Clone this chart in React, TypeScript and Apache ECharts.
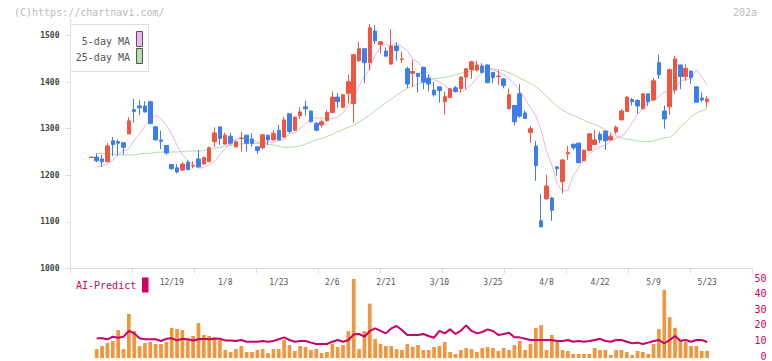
import React, { useEffect, useRef } from "react";
import * as echarts from "echarts";

// ---- data (one entry per trading day) ----
const opens = [
  1238, 1239, 1235, 1229, 1274, 1272, 1270, 1289, 1341, 1349, 1349, 1358, 1304, 1276, 1264, 1223, 1216, 1211, 1228, 1220,
  1235, 1224, 1229, 1272, 1304, 1267, 1284, 1261, 1279, 1286, 1278, 1261, 1259, 1286, 1276, 1297, 1282, 1332, 1297, 1328,
  1347, 1338, 1312, 1308, 1317, 1335, 1368, 1346, 1376, 1354, 1446, 1472, 1442, 1510, 1481, 1467, 1439, 1478, 1449, 1429,
  1419, 1419, 1432, 1409, 1383, 1390, 1358, 1367, 1388, 1386, 1411, 1427, 1426, 1435, 1437, 1421, 1412, 1407, 1343, 1350,
  1375, 1334, 1292, 1263, 1102, 1149, 1151, 1218, 1186, 1246, 1267, 1269, 1231, 1253, 1266, 1288, 1295, 1276, 1293, 1319,
  1337, 1363, 1361, 1343, 1375, 1362, 1442, 1338, 1347, 1383, 1437, 1412, 1424, 1390, 1366, 1358,
];
const closes = [
  1239, 1231, 1229, 1263, 1266, 1269, 1260, 1317, 1337, 1345, 1336, 1311, 1276, 1273, 1248, 1214, 1207, 1224, 1212, 1221,
  1218, 1238, 1259, 1291, 1279, 1286, 1269, 1272, 1280, 1269, 1269, 1253, 1287, 1276, 1290, 1276, 1319, 1294, 1325, 1336,
  1343, 1315, 1297, 1315, 1335, 1368, 1358, 1373, 1401, 1459, 1472, 1442, 1517, 1489, 1487, 1456, 1478, 1468, 1450, 1396,
  1423, 1412, 1400, 1396, 1373, 1382, 1369, 1386, 1380, 1411, 1429, 1444, 1437, 1421, 1399, 1410, 1413, 1393, 1373, 1315,
  1327, 1322, 1300, 1221, 1089, 1177, 1125, 1214, 1233, 1249, 1259, 1227, 1254, 1289, 1276, 1276, 1274, 1284, 1303, 1338,
  1368, 1358, 1349, 1375, 1358, 1403, 1416, 1321, 1427, 1450, 1412, 1430, 1410, 1357, 1362, 1364,
];
const lows = [
  1237, 1228, 1218, 1229, 1241, 1242, 1244, 1289, 1313, 1329, 1335, 1310, 1274, 1256, 1244, 1212, 1204, 1211, 1212, 1215,
  1217, 1224, 1229, 1261, 1265, 1266, 1265, 1259, 1251, 1251, 1261, 1246, 1256, 1265, 1275, 1275, 1280, 1290, 1295, 1321,
  1327, 1313, 1294, 1302, 1316, 1333, 1344, 1345, 1355, 1313, 1444, 1398, 1426, 1482, 1462, 1455, 1437, 1446, 1441, 1387,
  1390, 1378, 1385, 1380, 1369, 1356, 1330, 1366, 1378, 1378, 1385, 1407, 1423, 1419, 1398, 1398, 1394, 1387, 1342, 1307,
  1324, 1321, 1270, 1188, 1089, 1148, 1102, 1199, 1161, 1233, 1254, 1226, 1230, 1252, 1265, 1269, 1254, 1275, 1289, 1318,
  1336, 1350, 1332, 1341, 1349, 1360, 1407, 1300, 1330, 1374, 1385, 1403, 1396, 1356, 1357, 1346,
];
const highs = [
  1240, 1247, 1244, 1269, 1282, 1277, 1271, 1325, 1364, 1362, 1359, 1360, 1306, 1296, 1265, 1223, 1224, 1228, 1232, 1230,
  1254, 1240, 1262, 1303, 1304, 1291, 1291, 1275, 1293, 1287, 1290, 1262, 1288, 1287, 1297, 1308, 1326, 1333, 1326, 1346,
  1360, 1339, 1314, 1320, 1340, 1380, 1377, 1375, 1416, 1461, 1487, 1472, 1525, 1523, 1487, 1475, 1514, 1485, 1466, 1433,
  1448, 1420, 1433, 1417, 1401, 1390, 1380, 1387, 1392, 1412, 1429, 1446, 1446, 1441, 1438, 1422, 1426, 1409, 1386, 1351,
  1396, 1339, 1306, 1274, 1160, 1201, 1154, 1220, 1234, 1263, 1267, 1269, 1255, 1290, 1297, 1294, 1296, 1290, 1307, 1342,
  1370, 1366, 1363, 1376, 1375, 1409, 1459, 1350, 1429, 1457, 1438, 1439, 1425, 1391, 1378, 1370,
];
// moving averages: values before enough closes are shown
const ma5Head = [1218, 1220, 1224, 1232];
const ma25Head = [
  1247, 1247, 1247, 1245, 1244, 1244, 1244, 1244, 1246, 1247, 1247, 1249, 1250, 1250, 1250, 1250, 1251, 1252, 1252, 1252,
  1253, 1256, 1258, 1260,
];
// lower panel (starts at the 2nd trading day)
const volumes = [
  5.6, 7.5, 9.4, 10.6, 17.5, 5.6, 27.5, 16.9, 7.5, 9.4, 10, 8.75, 8.75, 10, 18.75, 18.1, 17.5, 11.25, 13.75, 21.9,
  14.4, 13.75, 13.1, 11.25, 5, 3.75, 5.6, 7.5, 3.75, 3.75, 5, 5.6, 3.1, 5.6, 5.6, 11.25, 8.1, 4.4, 7.5, 6.9,
  5, 5.6, 3.1, 3.75, 8.75, 6.9, 8.1, 16.9, 49.4, 5.6, 16.9, 34, 11.9, 8.75, 7.5, 7.5, 5.6, 5, 8.75, 6.9,
  8.1, 5, 5, 6.9, 7.5, 10, 3.75, 2.5, 5, 6.25, 5.6, 3.75, 6.25, 6.9, 6.25, 4.4, 6.25, 5, 8.1, 10.6,
  5, 8.75, 18.75, 20.6, 5, 14.4, 10.6, 5, 4.4, 2.5, 2.5, 2.5, 2.5, 6.25, 5, 5, 1.9, 5, 5, 3.75,
  1.9, 4.4, 3.75, 2.5, 8.75, 18.1, 42.5, 25.6, 18.75, 11.25, 10, 7.5, 7.5, 4.4, 4.4,
];
const aiPredict = [
  12.3, 12.3, 11.7, 13.3, 12.7, 13.3, 16.9, 15.4, 12.3, 11.7, 11.7, 11.7, 10.6, 12, 12.3, 11, 12, 11.7, 11, 11.7,
  12, 11.7, 12, 12, 11, 11, 10.6, 11.25, 10.2, 10.2, 10.2, 10.6, 10.2, 10.6, 11.7, 12.9, 11.25, 10.2, 10.6, 10.6,
  9.6, 8.75, 8.75, 8.75, 10.2, 11.25, 10.2, 11.25, 14.8, 15, 13.3, 16.9, 18.5, 16.9, 15.4, 18.5, 20, 17.5, 14.4, 14.4,
  14.4, 15, 13.75, 12.7, 16.9, 15.4, 17.9, 15, 17.1, 20.4, 16.9, 15.4, 16.25, 17.9, 16.9, 14.4, 15, 15.8, 12.9, 12.9,
  12, 11.25, 11.25, 11.25, 11.25, 11.25, 10.6, 10.6, 11.25, 10.2, 10.6, 10.2, 10.6, 11.25, 12, 10.6, 10.2, 11.25, 11.25, 10.2,
  9.2, 9.6, 8.75, 9.6, 10.6, 11.25, 9.2, 11.25, 13.75, 10.8, 11.25, 10.2, 11.25, 11.25, 10,
];
const dateLabels = ["12/19", "1/8", "1/23", "2/6", "2/21", "3/10", "3/25", "4/8", "4/22", "5/9", "5/23"];
const firstLabelIndex = 15;
const labelStep = 10;
const priceTicks = [1000, 1100, 1200, 1300, 1400, 1500];
const subTicks = [0, 10, 20, 30, 40, 50];

const RED = "#F0553F";
const BLUE = "#3E7DEE";
const MONO = "'DejaVu Sans Mono', monospace";

function movingAverage(period: number, head: number[]) {
  return closes.map((_, i) => {
    if (i === 0) return "-";
    if (i < period) return head[i - 1];
    let s = 0;
    for (let k = i - period; k < i; k++) s += closes[k];
    return +(s / period).toFixed(1);
  });
}

export default function App() {
  const ref = useRef<HTMLDivElement>(null);
  useEffect(() => {
    if (!ref.current) return;
    const chart = echarts.init(ref.current, null, { renderer: "svg" });
    const n = closes.length;
    const cats = Array.from({ length: n }, (_, i) => String(i));
    const candles = opens.map((o, i) => [o, closes[i], lows[i], highs[i]]);
    const ma5 = movingAverage(5, ma5Head);
    const ma25 = movingAverage(25, ma25Head);
    const volData = ["-", ...volumes];
    const aiData = ["-", ...aiPredict];

    chart.setOption({
      animation: false,
      grid: [
        { left: 88.7, right: 62.2, top: 19.4, bottom: 92.7 },
        { left: 88.7, right: 62.2, top: 278, bottom: 3 },
        { left: 70.5, right: 19.5, top: 19.4, bottom: 92.7 },
        { left: 70.5, right: 19.5, top: 278, bottom: 3 },
      ],
      xAxis: [
        {
          type: "category",
          gridIndex: 0,
          data: cats,
          boundaryGap: true,
          axisLine: { show: false },
          axisTick: { show: false },
          splitLine: { show: false },
          axisLabel: {
            interval: (index: number) => index >= firstLabelIndex && (index - firstLabelIndex) % labelStep === 0,
            formatter: (_v: string, index: number) => dateLabels[(index - firstLabelIndex) / labelStep] ?? "",
            margin: 10,
            fontSize: 8,
            color: "#555",
            fontFamily: MONO,
          },
        },
        { type: "category", gridIndex: 1, data: cats, boundaryGap: true, show: false },
        {
          type: "value",
          gridIndex: 2,
          min: 0,
          max: 11,
          interval: 1,
          axisLine: { show: true, onZero: false, lineStyle: { color: "#ddd", width: 1 } },
          axisTick: { show: true, length: 5, lineStyle: { color: "#ddd" } },
          axisLabel: { show: false },
          splitLine: { show: false },
        },
        { type: "value", gridIndex: 3, min: 0, max: 1, show: false },
      ],
      yAxis: [
        { type: "value", gridIndex: 0, min: 1000, max: 1535, show: false },
        { type: "value", gridIndex: 1, min: 0, max: 50, show: false },
        {
          type: "value",
          gridIndex: 2,
          min: 1000,
          max: 1535,
          interval: 100,
          axisLine: { show: true, onZero: false, lineStyle: { color: "#ddd" } },
          axisTick: { show: true, length: 5, lineStyle: { color: "#ddd" }, customValues: priceTicks },
          axisLabel: {
            customValues: priceTicks,
            formatter: (v: number) => (priceTicks.includes(v) ? String(v) : ""),
            margin: 11,
            fontSize: 8,
            fontWeight: "bold",
            color: "#444",
            fontFamily: MONO,
          },
          splitLine: { show: false },
        },
        {
          type: "value",
          gridIndex: 3,
          min: 0,
          max: 50,
          interval: 10,
          position: "right",
          axisLine: { show: false },
          axisTick: { show: false },
          axisLabel: {
            customValues: subTicks,
            align: "right",
            margin: 14,
            fontSize: 10,
            color: "#CC0066",
            fontFamily: MONO,
          },
          splitLine: { show: false },
        },
      ],
      series: [
        {
          type: "line",
          xAxisIndex: 0,
          yAxisIndex: 0,
          data: ma25,
          symbol: "none",
          z: 1,
          lineStyle: { color: "#B3DAA6", width: 1 },
        },
        {
          type: "line",
          xAxisIndex: 0,
          yAxisIndex: 0,
          data: ma5,
          symbol: "none",
          z: 1,
          lineStyle: { color: "#E8B2E8", width: 1 },
        },
        {
          type: "candlestick",
          xAxisIndex: 0,
          yAxisIndex: 0,
          data: candles,
          barWidth: 4,
          clip: false,
          z: 3,
          itemStyle: { color: RED, color0: BLUE, borderColor: RED, borderColor0: BLUE, borderWidth: 1 },
        },
        {
          type: "bar",
          xAxisIndex: 1,
          yAxisIndex: 1,
          data: volData,
          barWidth: 3.7,
          itemStyle: { color: "#F0963F" },
        },
        {
          type: "line",
          xAxisIndex: 1,
          yAxisIndex: 1,
          data: aiData,
          symbol: "none",
          lineStyle: { color: "#CC0066", width: 2 },
        },
      ],
      graphic: [
        {
          type: "text",
          x: 14,
          y: 12.7,
          style: { text: "(C)https://chartnavi.com/", fill: "#bbb", font: `10px ${MONO}`, verticalAlign: "middle" },
        },
        {
          type: "text",
          x: 757,
          y: 12.7,
          style: { text: "202a", fill: "#bbb", font: `10px ${MONO}`, align: "right", verticalAlign: "middle" },
        },
        {
          type: "rect",
          z: 10,
          shape: { x: 70.5, y: 24.5, width: 78, height: 47 },
          style: { fill: "#fff", stroke: "#ddd", lineWidth: 1 },
        },
        {
          type: "text",
          z: 11,
          x: 130,
          y: 41.7,
          style: { text: "5-day MA", fill: "#555", font: `10px ${MONO}`, align: "right", verticalAlign: "middle" },
        },
        {
          type: "text",
          z: 11,
          x: 130,
          y: 57.3,
          style: { text: "25-day MA", fill: "#555", font: `10px ${MONO}`, align: "right", verticalAlign: "middle" },
        },
        {
          type: "rect",
          z: 11,
          shape: { x: 136.5, y: 31.5, width: 6, height: 15 },
          style: { fill: "#EDB8EB", stroke: "#555", lineWidth: 1 },
        },
        {
          type: "rect",
          z: 11,
          shape: { x: 136.5, y: 48.5, width: 6, height: 15 },
          style: { fill: "#B9DDAE", stroke: "#555", lineWidth: 1 },
        },
        {
          type: "text",
          x: 76,
          y: 285.5,
          style: { text: "AI-Predict", fill: "#CC0066", font: `10px ${MONO}`, verticalAlign: "middle" },
        },
        {
          type: "rect",
          shape: { x: 142, y: 277.5, width: 6.5, height: 15 },
          style: { fill: "#CC0066" },
        },
      ],
    });
    return () => chart.dispose();
  }, []);
  return <div ref={ref} style={{ position: "fixed", left: 0, top: 0, width: 772, height: 361, background: "#fff" }} />;
}
